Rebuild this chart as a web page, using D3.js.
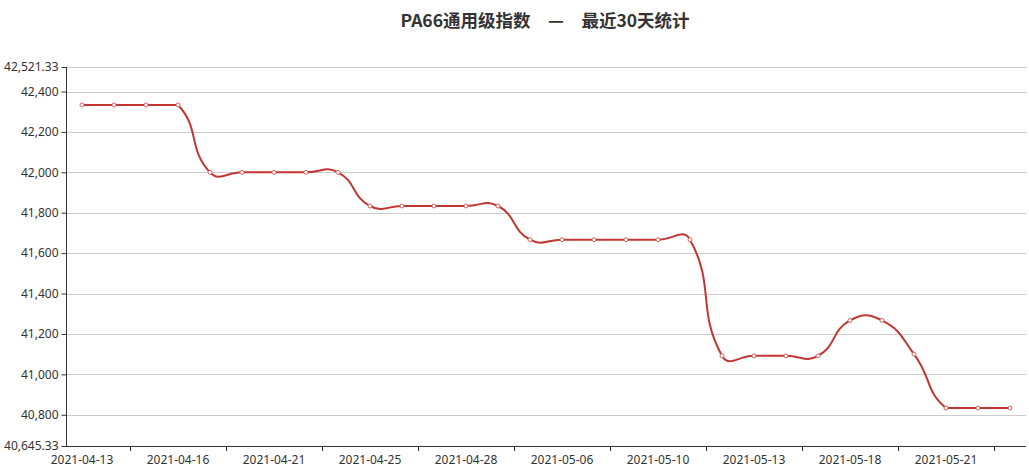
<!DOCTYPE html>
<html>
<head>
<meta charset="utf-8">
<script src="https://cdn.jsdelivr.net/npm/d3@7"></script>
<style>
  html, body { margin: 0; padding: 0; background: #fff; }
  svg { display: block; }
</style>
</head>
<body>
<svg id="chart" width="1029" height="473"></svg>
<script>
const title = "PA66通用级指数\u2002\u2002—\u2002\u2002最近30天统计";
const categories = [
  "2021-04-13","2021-04-14","2021-04-15","2021-04-16","2021-04-19","2021-04-20",
  "2021-04-21","2021-04-22","2021-04-23","2021-04-25","2021-04-26","2021-04-27",
  "2021-04-28","2021-04-29","2021-04-30","2021-05-06","2021-05-07","2021-05-08",
  "2021-05-10","2021-05-11","2021-05-12","2021-05-13","2021-05-14","2021-05-17",
  "2021-05-18","2021-05-19","2021-05-20","2021-05-21","2021-05-24","2021-05-25"
];
const values = [
  42333.33, 42333.33, 42333.33, 42333.33, 42000, 42000,
  42000, 42000, 42000, 41833.33, 41833.33, 41833.33,
  41833.33, 41833.33, 41666.67, 41666.67, 41666.67, 41666.67,
  41666.67, 41666.67, 41091.67, 41091.67, 41091.67, 41091.67,
  41266.67, 41266.67, 41100, 40833.33, 40833.33, 40833.33
];
const yDomain = [40645.33, 42521.33];
const yTickValues = [40645.33, 40800, 41000, 41200, 41400, 41600, 41800, 42000, 42200, 42400, 42521.33];
const xLabelIndices = [0, 3, 6, 9, 12, 15, 18, 21, 24, 27];
const xTickIndices = [2, 5, 8, 11, 14, 17, 20, 23, 26, 29];

const svg = d3.select("#chart");
const gLeft = 66, gRight = 1026, gTop = 67, gBottom = 446;
const font = "'Noto Sans', 'Microsoft YaHei', sans-serif";
const lineColor = "#c23531";

const x = d3.scaleBand().domain(categories).range([gLeft, gRight]).padding(0);
const y = d3.scaleLinear().domain(yDomain).range([gBottom, gTop]);

// title
svg.append("text")
  .attr("x", 545).attr("y", 27)
  .attr("text-anchor", "middle")
  .attr("font-family", "'Noto Sans CJK SC', 'Noto Sans', sans-serif")
  .attr("font-size", 17.5).attr("font-weight", "bold")
  .attr("fill", "#333")
  .text(title);

// gridlines
svg.append("g").selectAll("line")
  .data(yTickValues.filter(v => v !== yDomain[0]))
  .join("line")
  .attr("x1", gLeft).attr("x2", gRight)
  .attr("y1", d => Math.round(y(d)) + 0.5).attr("y2", d => Math.round(y(d)) + 0.5)
  .attr("stroke", "#ccc").attr("stroke-width", 1);

// y axis
const yAxis = d3.axisLeft(y).tickValues(yTickValues).tickSize(5).tickPadding(3)
  .tickFormat(d3.format(",~f"));
const gy = svg.append("g").attr("transform", `translate(${gLeft + 0.5},0)`).call(yAxis);
gy.select(".domain").attr("stroke", "#333").attr("d", `M0,${gTop}V${gBottom}`);
gy.selectAll(".tick line").attr("stroke", "#333");
gy.selectAll(".tick text").attr("font-family", font).attr("font-size", 12).attr("fill", "#333");

// x axis
const gx = svg.append("g");
gx.append("line").attr("x1", gLeft).attr("x2", gRight)
  .attr("y1", gBottom + 0.5).attr("y2", gBottom + 0.5).attr("stroke", "#333");
gx.selectAll("line.tk").data(xTickIndices).join("line").attr("class", "tk")
  .attr("x1", i => Math.round(x(categories[i])) + 0.5)
  .attr("x2", i => Math.round(x(categories[i])) + 0.5)
  .attr("y1", gBottom).attr("y2", gBottom + 5).attr("stroke", "#333");
gx.selectAll("text").data(xLabelIndices).join("text")
  .attr("x", i => x(categories[i]) + x.bandwidth() / 2)
  .attr("y", gBottom + 9).attr("dy", "0.71em")
  .attr("text-anchor", "middle")
  .attr("font-family", font).attr("font-size", 12).attr("fill", "#333")
  .text(i => categories[i]);

// ECharts-like smooth line
const pts = values.map((v, i) => [x(categories[i]) + x.bandwidth() / 2, y(v)]);
const minX = d3.min(pts, p => p[0]), maxX = d3.max(pts, p => p[0]);
const minY = d3.min(pts, p => p[1]), maxY = d3.max(pts, p => p[1]);
const s = 0.5;
const inCP = [], outCP = [];
pts.forEach((p, i) => {
  if (i === 0 || i === pts.length - 1) { inCP[i] = p.slice(); outCP[i] = p.slice(); return; }
  const a = pts[i - 1], b = pts[i + 1];
  const vx = b[0] - a[0], vy = b[1] - a[1];
  const d0 = Math.hypot(p[0] - a[0], p[1] - a[1]);
  const d1 = Math.hypot(b[0] - p[0], b[1] - p[1]);
  const r = d0 + d1 === 0 ? 0.5 : d1 / (d0 + d1);
  const clamp = (c) => [Math.max(minX, Math.min(maxX, c[0])), Math.max(minY, Math.min(maxY, c[1]))];
  outCP[i] = clamp([p[0] + vx * s * r, p[1] + vy * s * r]);
  inCP[i] = clamp([p[0] - vx * s * (1 - r), p[1] - vy * s * (1 - r)]);
});
const path = d3.path();
path.moveTo(pts[0][0], pts[0][1]);
for (let i = 0; i < pts.length - 1; i++) {
  path.bezierCurveTo(outCP[i][0], outCP[i][1], inCP[i + 1][0], inCP[i + 1][1], pts[i + 1][0], pts[i + 1][1]);
}
svg.append("path").attr("d", path.toString())
  .attr("fill", "none").attr("stroke", lineColor).attr("stroke-width", 2)
  .attr("stroke-linejoin", "round");

// symbols
svg.append("g").selectAll("circle").data(values).join("circle")
  .attr("cx", (v, i) => x(categories[i]) + x.bandwidth() / 2)
  .attr("cy", v => y(v))
  .attr("r", 2)
  .attr("fill", "#fff").attr("stroke", "#d76461").attr("stroke-width", 1);
</script>
</body>
</html>
